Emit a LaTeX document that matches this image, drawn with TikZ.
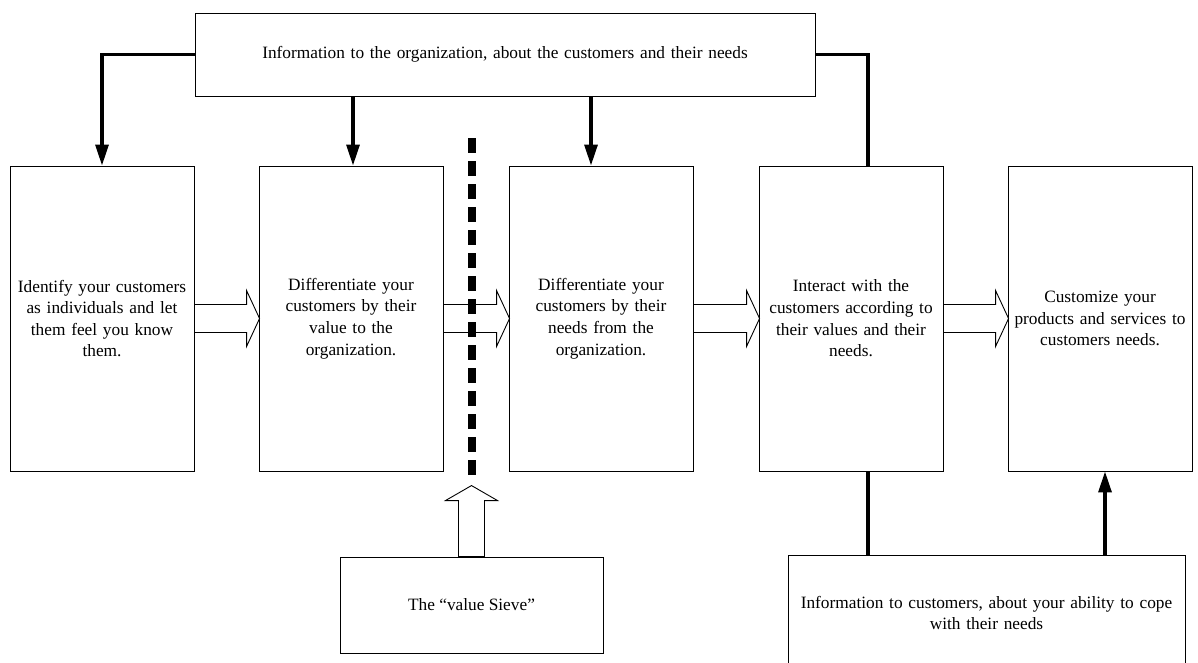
\documentclass[tikz,border=0pt]{standalone}
\usepackage{fontspec}
\setmainfont{Liberation Serif}
\usetikzlibrary{arrows.meta,calc}

% hollow block arrow pointing right, from the east side of #1 to the west side of #2
\newcommand\rightblock[2]{%
  \path[blockarrow] let \p1=(#1.east), \p2=(#2.west) in
    (\x1,\y1+14) -- (\x2-12,\y1+14) -- (\x2-12,\y1+28) -- (\x2+1,\y1)
    -- (\x2-12,\y1-28) -- (\x2-12,\y1-14) -- (\x1,\y1-14) -- cycle;}

\begin{document}
\begin{tikzpicture}[x=1pt,y=1pt,
  box/.style={draw,line width=0.9pt,inner sep=0pt,align=center,
    font=\fontsize{17.3}{21.6}\selectfont},
  stage/.style={box,minimum width=184pt,minimum height=305pt,text width=180pt},
  flow/.style={line width=3.2pt},
  flowarrow/.style={flow,-{Triangle[length=21pt,width=13pt]}},
  blockarrow/.style={draw,line width=0.9pt,fill=white,line join=miter},
  sieveline/.style={line width=8pt,dash pattern=on 15pt off 8pt}]

\clip (0,0) rectangle (1198,-662);

% information flowing into the organization
\node[box,minimum width=620pt,minimum height=83pt,text width=610pt] (info) at (505,-54.5)
  {Information to the organization, about the customers and their needs};

% the five stages
\node[stage] (b1) at (102,-318.5)
  {Identify your customers\\as individuals and let\\them feel you know\\them.};
\node[stage] (b2) at (351,-318.5)
  {Differentiate your\\customers by their\\value to the\\organization.};
\node[stage] (b3) at (601,-318.5)
  {Differentiate your\\customers by their\\needs from the\\organization.};
\node[stage] (b4) at (851,-318.5)
  {Interact with the\\customers according to\\their values and their\\needs.};
\node[stage] (b5) at (1100,-318.5)
  {Customize your\\products and services to\\customers needs.};

% the sieve and the information given back to customers
\node[box,minimum width=263pt,minimum height=96pt] (sieve) at (471.5,-605)
  {The “value Sieve”};
\node[box,minimum width=397pt,minimum height=115pt,text width=390pt] (custinfo) at (986.5,-613)
  {Information to customers, about your ability to cope\\with their needs};

% hollow arrows between the stages
\rightblock{b1}{b2}
\rightblock{b2}{b3}
\rightblock{b3}{b4}
\rightblock{b4}{b5}

% the sieve pushing up into the dashed dividing line
\path[blockarrow] let \p1=(sieve.north) in
  (\x1-13,\y1) -- (\x1-13,\y1+56) -- (\x1-26,\y1+56) -- (\x1,\y1+71)
  -- (\x1+26,\y1+56) -- (\x1+13,\y1+56) -- (\x1+13,\y1) -- cycle;
\coordinate (cutTop) at (472,-138);
\coordinate (cutBottom) at (472,-478);
\draw[sieveline] (cutTop) -- (cutBottom);

% information connectors
\draw[flowarrow] (info.west) -| (b1.north);
\draw[flowarrow] ([xshift=2pt]b2.north |- info.south) -- ([xshift=2pt]b2.north);
\draw[flowarrow] ([xshift=-10pt]b3.north |- info.south) -- ([xshift=-10pt]b3.north);
\draw[flow] (info.east) -| ([xshift=17pt]b4.north);
\draw[flow] ([xshift=17pt]b4.south) -- ([xshift=17pt]b4.south |- custinfo.north);
\draw[flowarrow] ([xshift=5pt]b5.south |- custinfo.north) -- ([xshift=5pt]b5.south);
\end{tikzpicture}
\end{document}
